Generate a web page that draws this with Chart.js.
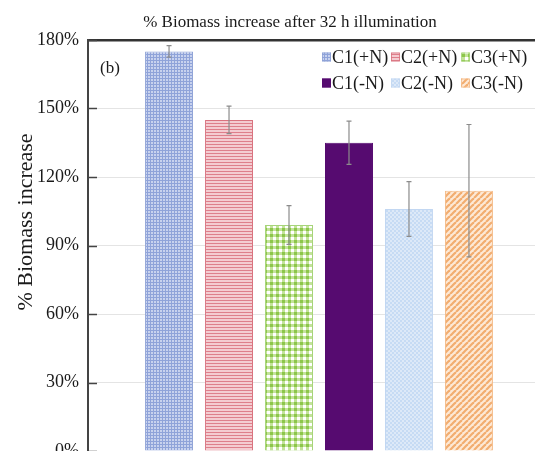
<!DOCTYPE html>
<html>
<head>
<meta charset="utf-8">
<script src="https://cdn.jsdelivr.net/npm/chart.js@4.4.1/dist/chart.umd.min.js"></script>
<style>
  html, body { margin: 0; padding: 0; background: #fff; overflow: hidden; }
  #wrap { width: 560px; height: 500px; }
</style>
</head>
<body>
<div id="wrap"><canvas id="c" width="560" height="500"></canvas></div>
<script>
// Treatments, mean biomass increase (%) and error-bar half widths (%)
const categories = ['C1(+N)', 'C2(+N)', 'C3(+N)', 'C1(-N)', 'C2(-N)', 'C3(-N)'];
const means = [175, 145, 99, 135, 106, 114];
const errors = [2.5, 6, 8.5, 9.5, 12, 29];
const yTicks = [0, 30, 60, 90, 120, 150, 180];

const SERIF = '"Liberation Serif", "Times New Roman", serif';

// Small tiles used as bar fills
function tile(w, h, draw) {
  const c = document.createElement('canvas');
  c.width = w; c.height = h;
  const g = c.getContext('2d');
  draw(g, w, h);
  return g.createPattern(c, 'repeat');
}
const fills = [
  // fine blue grid
  tile(3, 3, (g) => {
    g.fillStyle = '#c8d2ee'; g.fillRect(0, 0, 3, 3);
    g.fillStyle = '#8fa3d9'; g.fillRect(0, 0, 1, 3); g.fillRect(0, 0, 3, 1);
  }),
  // red horizontal lines
  tile(4, 3, (g) => {
    g.fillStyle = '#f4ccd1'; g.fillRect(0, 0, 4, 3);
    g.fillStyle = '#de7f8b'; g.fillRect(0, 0, 4, 1);
  }),
  // green gingham
  tile(6, 6, (g) => {
    g.fillStyle = '#ffffff'; g.fillRect(0, 0, 6, 6);
    g.fillStyle = '#c3e39a'; g.fillRect(0, 0, 3, 6); g.fillRect(0, 0, 6, 3);
    g.fillStyle = '#8cc64a'; g.fillRect(0, 0, 3, 3);
  }),
  // solid purple
  '#560b70',
  // light blue small checks
  tile(4, 4, (g) => {
    g.fillStyle = '#ffffff'; g.fillRect(0, 0, 4, 4);
    g.fillStyle = '#c6dbf4'; g.fillRect(0, 0, 2, 2); g.fillRect(2, 2, 2, 2);
    g.fillStyle = '#dde9f8'; g.fillRect(2, 0, 2, 2); g.fillRect(0, 2, 2, 2);
  }),
  // orange diagonal stripes
  tile(6, 6, (g) => {
    g.fillStyle = '#fde9d6'; g.fillRect(0, 0, 6, 6);
    g.strokeStyle = '#f2ad70'; g.lineWidth = 2.2;
    for (let k = -6; k <= 12; k += 6) {
      g.beginPath(); g.moveTo(k, 6); g.lineTo(k + 6, 0); g.stroke();
    }
  })
];
const edges = ['#8ea2d6', '#d9737f', '#a7d47a', '#560b70', '#c2d7f2', '#f4bb88'];

const datasets = categories.map((name, i) => ({
  label: name,
  data: [means[i]],
  backgroundColor: fills[i],
  borderColor: edges[i],
  borderWidth: 1,
  categoryPercentage: 0.779,
  barPercentage: 0.8
}));

// Title, axis caption, panel tag, tick marks, error bars and legend
const decorations = {
  id: 'decorations',
  afterDatasetsDraw(chart) {
    const { ctx, scales: { y } } = chart;
    ctx.save();
    // error bars
    ctx.strokeStyle = '#8c8c8c';
    ctx.lineWidth = 1.2;
    chart.data.datasets.forEach((ds, i) => {
      const bar = chart.getDatasetMeta(i).data[0];
      const x = bar.x;
      const t = y.getPixelForValue(means[i] + errors[i]);
      const b = y.getPixelForValue(means[i] - errors[i]);
      ctx.beginPath();
      ctx.moveTo(x, t); ctx.lineTo(x, b);
      ctx.moveTo(x - 2.5, t); ctx.lineTo(x + 2.5, t);
      ctx.moveTo(x - 2.5, b); ctx.lineTo(x + 2.5, b);
      ctx.stroke();
    });
    ctx.restore();
  },
  afterDraw(chart) {
    const { ctx, chartArea: a, scales: { y } } = chart;
    ctx.save();
    // inward tick marks
    ctx.strokeStyle = '#444';
    ctx.lineWidth = 1.5;
    yTicks.forEach(v => {
      const py = Math.round(y.getPixelForValue(v)) + 0.5;
      ctx.beginPath(); ctx.moveTo(a.left, py); ctx.lineTo(a.left + 9, py); ctx.stroke();
    });
    // title
    ctx.fillStyle = '#1a1a1a';
    ctx.font = '17px ' + SERIF;
    ctx.textAlign = 'center';
    ctx.textBaseline = 'alphabetic';
    ctx.fillText('% Biomass increase after 32 h illumination', 290, 27);
    // y axis caption
    ctx.save();
    ctx.translate(32, 222);
    ctx.rotate(-Math.PI / 2);
    ctx.font = '22px ' + SERIF;
    ctx.textBaseline = 'alphabetic';
    ctx.fillText('% Biomass increase', 0, 0);
    ctx.restore();
    // panel tag
    ctx.font = '17px ' + SERIF;
    ctx.textAlign = 'left';
    ctx.textBaseline = 'middle';
    ctx.fillText('(b)', 100, 69);
    // legend: two rows of three
    const cols = [322, 391, 461];
    const rows = [57, 83];
    ctx.font = '18px ' + SERIF;
    chart.data.datasets.forEach((ds, i) => {
      const cx = cols[i % 3], cy = rows[Math.floor(i / 3)];
      ctx.fillStyle = ds.backgroundColor;
      ctx.fillRect(cx, cy - 4.5, 9, 9);
      ctx.strokeStyle = ds.borderColor; ctx.lineWidth = 0.8;
      ctx.strokeRect(cx + 0.5, cy - 4, 8, 8);
      ctx.fillStyle = '#1a1a1a';
      ctx.fillText(ds.label, cx + 10, cy + 1);
    });
    ctx.restore();
  }
};

new Chart(document.getElementById('c'), {
  type: 'bar',
  data: { labels: [''], datasets },
  options: {
    responsive: false,
    devicePixelRatio: 1,
    animation: false,
    layout: { padding: { left: 0, top: 40, right: 10, bottom: 49 } },
    plugins: { legend: { display: false }, title: { display: false }, tooltip: { enabled: false } },
    scales: {
      x: { display: false },
      y: {
        min: 0, max: 180,
        afterBuildTicks: (s) => { s.ticks = yTicks.map(v => ({ value: v })); },
        afterFit: (s) => { s.width = 88; },
        ticks: {
          padding: 9,
          color: '#1a1a1a',
          font: { family: SERIF, size: 18 },
          callback: (v) => v + '%'
        },
        grid: {
          drawTicks: false,
          color: (c) => c.tick && c.tick.value === 180 ? '#333' : '#e4e4e4',
          lineWidth: (c) => c.tick && c.tick.value === 180 ? 2.5 : 1
        },
        border: { display: true, color: '#444', width: 2 }
      }
    }
  },
  plugins: [decorations]
});
</script>
</body>
</html>
